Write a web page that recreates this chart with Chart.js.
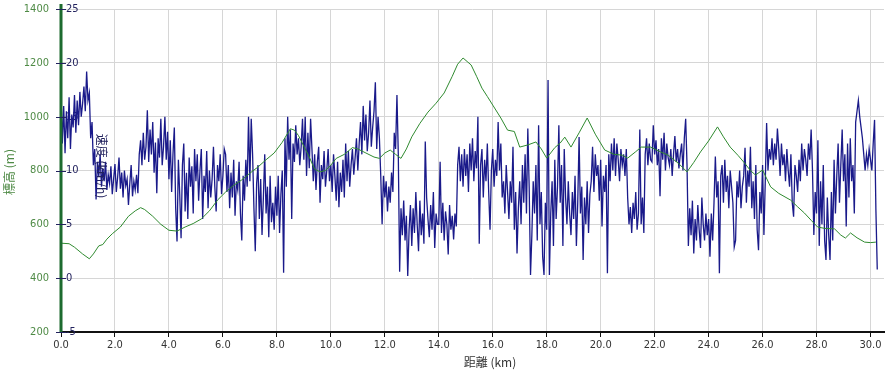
<!DOCTYPE html>
<html>
<head>
<meta charset="utf-8">
<script src="https://cdn.jsdelivr.net/npm/chart.js@4"></script>
<style>
  body { margin: 0; background: #fff; }
  #wrap { width: 886px; height: 374px; }
</style>
</head>
<body>
<div id="wrap"><canvas id="profile"></canvas></div>
<script>
// elevation profile (km, m)
const elevKm = [0.0, 0.3, 0.5, 0.8, 1.05, 1.2, 1.4, 1.55, 1.7, 1.9, 2.2, 2.5, 2.75, 2.95, 3.1, 3.4, 3.7, 4.0, 4.3, 4.6,
  4.9, 5.2, 5.5, 5.8, 6.1, 6.4, 6.7, 7.0, 7.3, 7.6, 7.9, 8.2, 8.5, 8.65, 8.8, 9.0, 9.2, 9.4, 9.6, 9.8,
  10.0, 10.2, 10.5, 10.8, 11.0, 11.3, 11.6, 11.8, 12.0, 12.2, 12.4, 12.6, 12.8, 13.0, 13.3, 13.6, 13.9, 14.2, 14.5, 14.7,
  14.9, 15.05, 15.2, 15.4, 15.6, 15.8, 16.0, 16.3, 16.55, 16.8, 17.0, 17.3, 17.6, 17.8, 18.0, 18.3, 18.5, 18.67, 18.9, 19.2,
  19.5, 19.8, 20.15, 20.5, 20.8, 21.0, 21.3, 21.5, 21.85, 22.2, 22.5, 22.9, 23.2, 23.45, 23.7, 24.0, 24.33, 24.55, 24.8, 25.1,
  25.33, 25.55, 25.74, 26.0, 26.3, 26.6, 27.04, 27.3, 27.55, 27.8, 28.04, 28.3, 28.67, 28.9, 29.07, 29.26, 29.5, 29.78, 30.0, 30.2];
const elevM = [530, 528, 515, 490, 472, 490, 520, 525, 545, 565, 590, 630, 650, 662, 655, 630, 600, 578, 575, 590,
  603, 620, 650, 690, 720, 745, 765, 790, 813, 840, 865, 905, 955, 950, 930, 890, 850, 805, 795, 800,
  820, 845, 860, 885, 880, 865, 850, 845, 865, 876, 860, 845, 880, 925, 975, 1017, 1050, 1088, 1150, 1195,
  1218, 1205, 1192, 1150, 1106, 1075, 1043, 995, 950, 945, 887, 895, 906, 880, 846, 885, 902, 924, 887, 940,
  995, 935, 876, 860, 857, 846, 870, 887, 887, 870, 857, 825, 795, 830, 869, 910, 962, 925, 887, 855,
  828, 800, 783, 802, 739, 715, 690, 665, 642, 615, 590, 585, 583, 560, 549, 568, 550, 534, 532, 534];

// speed (km/h), one reading every 0.05 km from 0.00 km
const speedStepKm = 0.05;
const speedKmh = [
  17.0, 12.5, 16.0, 11.6, 15.5, 13.0, 16.8, 12.0, 15.2, 14.0, 17.0, 13.5, 16.5, 14.2, 17.3, 15.0, 16.2, 17.8, 15.5, 19.2,
  16.5, 17.2, 13.0, 14.5, 10.5, 12.0, 7.3, 10.8, 9.5, 11.5, 8.5, 10.2, 9.0, 10.8, 8.2, 9.6, 8.8, 10.4, 7.8, 9.2,
  10.6, 8.0, 9.4, 11.2, 8.3, 9.8, 7.5, 10.0, 8.6, 9.2, 6.8, 8.8, 10.5, 7.6, 9.0, 8.2, 9.6, 7.9, 11.5, 12.8,
  10.5, 13.5, 11.0, 12.2, 15.6, 10.8, 13.8, 11.5, 14.5, 9.8, 12.6, 7.9, 13.0, 11.2, 14.8, 10.5, 12.2, 15.0, 11.0, 13.6,
  9.2, 12.8, 8.0, 11.5, 14.0, 6.5, 3.4, 11.0, 7.8, 3.7, 10.5, 12.5, 6.2, 9.8, 5.5, 11.2, 8.5, 10.4, 6.0, 12.0,
  9.0, 11.5, 7.2, 10.0, 12.0, 5.5, 9.5, 8.0, 11.8, 6.5, 10.0, 7.5, 9.2, 12.2, 8.5, 6.2, 10.5, 9.0, 11.5, 7.8,
  9.5, 12.0, 11.5, 8.0, 10.5, 6.5, 9.8, 7.5, 11.0, 5.8, 9.0, 8.2, 10.8, 6.0, 3.5, 9.5, 7.2, 11.0, 8.5, 15.0,
  9.0, 14.8, 11.5, 6.5, 2.5, 8.8, 10.5, 5.5, 9.2, 4.0, 7.5, 11.5, 6.0, 8.5, 3.8, 9.5, 5.2, 7.0, 4.5, 8.5,
  5.8, 9.5, 4.2, 7.8, 10.0, 0.5, 13.0, 8.5, 15.0, 11.0, 13.8, 5.5, 12.5, 10.8, 14.2, 11.5, 13.0, 10.5, 12.2, 14.8,
  11.0, 15.0, 9.5, 13.5, 10.2, 14.8, 12.0, 9.0, 11.5, 8.2, 10.8, 12.2, 7.0, 10.5, 9.2, 11.8, 8.5, 10.0, 12.0, 9.0,
  10.5, 8.0, 11.5, 9.5, 7.2, 10.8, 6.6, 9.8, 8.0, 11.0, 7.5, 12.5, 9.0, 11.8, 8.5, 10.5, 12.0, 9.6, 11.2, 13.0,
  10.0, 12.5, 14.5, 11.5, 16.0, 12.8, 15.2, 11.8, 13.5, 16.5, 12.2, 14.0, 15.5, 18.2, 12.0, 15.0, 13.0, 9.5, 5.0, 9.5,
  7.5, 9.0, 6.2, 8.5, 7.0, 9.8, 8.0, 13.5, 12.0, 17.0, 11.5, 0.6, 6.5, 4.0, 7.2, 3.5, 5.8, 0.2, 4.5, 6.8,
  3.0, 6.5, 4.2, 8.0, 5.0, 2.5, 7.2, 4.0, 6.0, 3.2, 12.7, 7.5, 5.5, 3.8, 6.8, 4.5, 8.0, 2.8, 6.0, 5.0,
  5.0, 10.8, 4.2, 7.0, 3.5, 6.2, 5.0, 2.2, 6.8, 4.5, 5.8, 3.6, 6.0, 4.8, 10.5, 12.2, 9.0, 11.5, 8.5, 12.0,
  9.5, 11.5, 8.0, 12.5, 10.0, 13.0, 9.0, 11.8, 10.2, 15.0, 3.2, 10.5, 12.0, 7.5, 11.0, 9.0, 12.5, 8.0, 4.5, 10.0,
  12.0, 8.5, 11.0, 9.5, 14.5, 10.0, 12.5, 7.5, 9.0, 6.0, 10.5, 8.0, 5.5, 9.0, 7.0, 12.2, 4.5, 8.0, 2.3, 6.5,
  9.0, 5.0, 10.5, 7.0, 11.5, 6.0, 13.9, 8.5, 0.3, 4.0, 9.0, 6.0, 10.5, 3.5, 14.2, 5.0, 8.0, 2.0, 0.3, 7.0,
  4.5, 18.4, 0.3, 6.0, 9.0, 3.0, 11.0, 5.5, 8.5, 14.2, 7.0, 10.5, 3.0, 12.0, 7.5, 5.0, 9.0, 6.0, 4.0, 8.0,
  5.5, 9.5, 3.0, 7.0, 13.1, 6.0, 8.5, 1.7, 7.5, 5.0, 9.0, 4.2, 7.8, 9.0, 12.2, 8.0, 11.5, 9.5, 10.5, 7.2,
  11.0, 4.8, 9.5, 8.0, 10.5, 0.45, 11.5, 9.0, 12.5, 10.0, 13.0, 9.5, 12.5, 11.0, 9.0, 12.0, 10.5, 11.5, 9.5, 12.0,
  7.5, 5.0, 6.6, 4.2, 7.0, 5.5, 8.0, 4.5, 6.0, 13.8, 5.0, 7.5, 4.2, 11.5, 13.0, 10.5, 12.5, 11.0, 10.8, 14.2,
  11.5, 12.8, 10.5, 12.0, 7.6, 13.0, 11.0, 13.5, 10.0, 12.5, 11.2, 10.5, 12.0, 9.5, 11.5, 13.2, 10.8, 12.0, 10.2, 11.5,
  12.5, 10.0, 13.0, 14.8, 10.5, 3.0, 6.5, 4.0, 7.2, 2.3, 5.5, 3.5, 6.8, 4.5, 2.8, 7.5, 5.0, 3.5, 6.0, 4.0,
  5.5, 2.0, 6.0, 3.5, 7.0, 11.3, 7.5, 9.0, 0.45, 9.5, 10.5, 7.0, 11.0, 8.0, 9.5, 6.5, 10.0, 8.5, 7.0, 2.9,
  3.5, 9.0, 7.5, 10.0, 6.5, 8.5, 9.5, 12.1, 7.0, 10.0, 8.5, 12.2, 6.5, 9.0, 5.5, 10.5, 4.5, 2.6, 8.0, 6.0,
  10.5, 4.0, 9.0, 14.4, 10.0, 12.0, 11.0, 13.0, 10.5, 12.5, 11.0, 13.9, 12.0, 9.5, 12.5, 10.5, 11.5, 9.0, 12.0, 10.0,
  8.5, 11.5, 7.0, 5.7, 10.5, 9.5, 8.0, 11.0, 9.0, 12.5, 10.0, 12.0, 11.0, 9.5, 12.5, 11.0, 13.8, 10.0, 4.0, 8.0,
  6.0, 12.8, 3.0, 9.0, 5.0, 10.5, 3.5, 1.7, 7.5, 4.0, 1.7, 8.0, 3.5, 11.0, 6.0, 9.5, 12.5, 7.0, 10.5, 13.8,
  9.0, 11.5, 4.8, 12.5, 7.5, 13.0, 9.0, 10.5, 6.0, 14.5, 15.5, 16.5, 15.0, 14.0, 13.0, 11.5, 10.0, 11.5, 10.5, 12.0,
  11.0, 10.0, 12.5, 14.7, 6.3, 0.8
];

const elevTicks = [200, 400, 600, 800, 1000, 1200, 1400];
const speedTicks = [-5, 0, 5, 10, 15, 20, 25];

const elevPoints = elevKm.map((k, i) => ({ x: k, y: elevM[i] }));
const speedPoints = speedKmh.map((v, i) => ({ x: +(i * speedStepKm).toFixed(2), y: v }));

const FONT = "'DejaVu Sans Condensed', 'DejaVu Sans', sans-serif";
const CJK = "'Noto Sans CJK JP', sans-serif";

const decor = {
  id: 'decor',
  afterDraw(chart) {
    const { ctx, chartArea: a, scales } = chart;
    ctx.save();
    // thick elevation axis line
    ctx.strokeStyle = '#1d6b2f';
    ctx.lineWidth = 3;
    ctx.beginPath();
    ctx.moveTo(a.left, 4);
    ctx.lineTo(a.left, a.bottom);
    ctx.stroke();
    // small crosses at the speed ticks
    ctx.strokeStyle = '#22225e';
    ctx.lineWidth = 1;
    ctx.beginPath();
    speedTicks.forEach(v => {
      const y = Math.round(scales.y1.getPixelForValue(v)) + 0.5;
      ctx.moveTo(a.left - 5, y);
      ctx.lineTo(a.left + 5, y);
    });
    ctx.stroke();
    // titles
    ctx.font = '12px ' + CJK;
    ctx.textAlign = 'center';
    ctx.textBaseline = 'middle';
    ctx.fillStyle = '#4e8a45';
    ctx.save();
    ctx.translate(9, 172);
    ctx.rotate(-Math.PI / 2);
    ctx.fillText('標高 (m)', 0, 0);
    ctx.restore();
    ctx.fillStyle = '#22225e';
    ctx.save();
    ctx.translate(102, 166);
    ctx.rotate(Math.PI / 2);
    ctx.fillText('速度 (km/h)', 0, 0);
    ctx.restore();
    ctx.fillStyle = '#333';
    ctx.fillText('距離 (km)', 490, 362);
    ctx.restore();
  }
};

const noPad = s => { s.paddingTop = 0; s.paddingBottom = 0; };

new Chart(document.getElementById('profile'), {
  type: 'line',
  data: {
    datasets: [
      {
        label: '標高',
        data: elevPoints,
        yAxisID: 'y',
        borderColor: '#2f8a2f',
        borderWidth: 1,
        pointRadius: 0,
        tension: 0,
        order: 1
      },
      {
        label: '速度',
        data: speedPoints,
        yAxisID: 'y1',
        borderColor: '#1a1a8a',
        borderWidth: 1.3,
        pointRadius: 0,
        tension: 0,
        order: 2
      }
    ]
  },
  options: {
    responsive: true,
    maintainAspectRatio: false,
    animation: false,
    layout: { padding: { top: 9, right: 2, left: 0, bottom: 0 } },
    plugins: { legend: { display: false }, tooltip: { enabled: false } },
    scales: {
      x: {
        type: 'linear',
        min: 0,
        max: 30.5,
        afterFit: s => { s.height = 42; },
        ticks: {
          stepSize: 2,
          includeBounds: false,
          padding: 2,
          color: '#333',
          font: { family: FONT, size: 11 },
          maxRotation: 0,
          callback: v => v.toFixed(1)
        },
        grid: { color: '#d6d6d6', tickColor: '#111', tickLength: 5 },
        border: { color: '#111', width: 2 }
      },
      y: {
        position: 'left',
        weight: 2,
        min: 200,
        max: 1400,
        afterFit: s => { s.width = 61; noPad(s); },
        afterBuildTicks: s => { s.ticks = elevTicks.map(v => ({ value: v })); },
        ticks: { padding: 12, color: '#4e8a45', font: { family: FONT, size: 11 }, callback: v => String(v) },
        grid: { color: '#d6d6d6', drawTicks: false },
        border: { display: false }
      },
      y1: {
        position: 'left',
        weight: 1,
        min: -5,
        max: 25,
        afterFit: s => { s.width = 0; noPad(s); },
        afterBuildTicks: s => { s.ticks = speedTicks.map(v => ({ value: v })); },
        ticks: { mirror: true, padding: 5, color: '#22225e', font: { family: FONT, size: 11 }, callback: v => String(v) },
        grid: { display: false },
        border: { display: false }
      }
    }
  },
  plugins: [decor]
});
</script>
</body>
</html>
